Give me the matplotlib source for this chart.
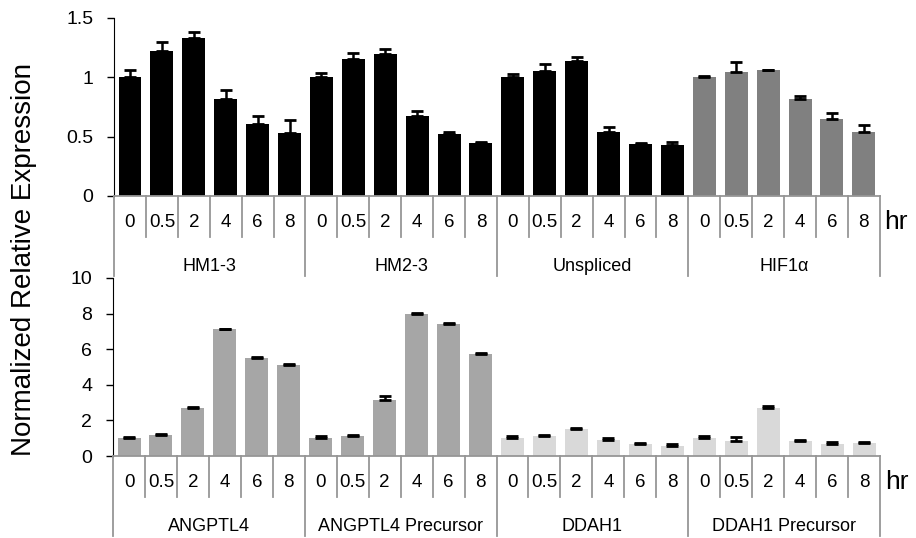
import matplotlib
matplotlib.use("Agg")
from matplotlib import pyplot as plt
from matplotlib import transforms
import numpy as np

plt.rcParams['font.family'] = ['Liberation Sans', 'DejaVu Sans']

times = ["0", "0.5", "2", "4", "6", "8"]

top_groups = ["HM1-3", "HM2-3", "Unspliced", "HIF1α"]
top_colors = ["black", "black", "black", "#808080"]
top_vals = [1.00, 1.22, 1.33, 0.82, 0.61, 0.53,
            1.00, 1.155, 1.20, 0.675, 0.52, 0.447,
            1.00, 1.05, 1.14, 0.54, 0.44, 0.43,
            1.005, 1.045, 1.06, 0.815, 0.65, 0.54]
top_errs = [0.06, 0.08, 0.05, 0.07, 0.06, 0.11,
            0.04, 0.05, 0.035, 0.04, 0.02, 0.01,
            0.03, 0.06, 0.035, 0.04, 0.01, 0.025,
            0.01, 0.08, 0.005, 0.025, 0.05, 0.06]

bottom_groups = ["ANGPTL4", "ANGPTL4 Precursor", "DDAH1", "DDAH1 Precursor"]
bottom_colors = ["#a6a6a6", "#a6a6a6", "#d9d9d9", "#d9d9d9"]
bottom_vals = [1.03, 1.20, 2.68, 7.11, 5.52, 5.14,
               1.03, 1.14, 3.17, 7.97, 7.39, 5.74,
               1.03, 1.14, 1.52, 0.92, 0.69, 0.58,
               1.03, 0.86, 2.72, 0.83, 0.66, 0.71]
bottom_errs = [0.05, 0.03, 0.07, 0.03, 0.04, 0.03,
               0.10, 0.04, 0.19, 0.07, 0.06, 0.04,
               0.12, 0.05, 0.06, 0.07, 0.06, 0.08,
               0.07, 0.18, 0.09, 0.07, 0.12, 0.06]

sep_color = "#969696"


def draw_panel(ax, groups, colors, vals, errs, ymax, yticks, yticklabels):
    n = len(times)
    x = np.arange(len(vals)) + 0.5
    bar_colors = [c for c in colors for _ in range(n)]
    ax.bar(x, vals, width=0.72, color=bar_colors, zorder=2)
    ax.errorbar(x, vals, yerr=[np.zeros(len(errs)), errs], fmt='none',
                ecolor='black', elinewidth=1.8, capsize=4.2, capthick=2, zorder=3)
    ax.set_xlim(0, len(vals))
    ax.set_ylim(0, ymax)
    ax.set_yticks(yticks)
    ax.set_yticklabels(yticklabels, fontsize=14)
    ax.tick_params(axis='y', direction='out', length=5, width=1, pad=10)
    ax.set_xticks([])
    for s in ['top', 'right']:
        ax.spines[s].set_visible(False)
    ax.spines['left'].set_color('black')
    ax.spines['bottom'].set_color(sep_color)
    ax.spines['bottom'].set_linewidth(1.3)

    # multi-level category axis
    tr = transforms.blended_transform_factory(ax.transData, ax.transAxes)
    for i in range(len(vals) + 1):
        depth = -0.45 if i % n == 0 else -0.23
        ax.plot([i, i], [0, depth], color=sep_color, lw=1.3,
                transform=tr, clip_on=False)
    for i, t in enumerate(times * len(groups)):
        ax.text(i + 0.5, -0.15, t, transform=tr, ha='center', va='center',
                fontsize=13.5)
    for g, name in enumerate(groups):
        ax.text(g * n + n / 2, -0.395, name, transform=tr, ha='center',
                va='center', fontsize=13)
    ax.text(len(vals) + 0.15, -0.145, "hr", transform=tr, ha='left',
            va='center', fontsize=19)


fig = plt.figure(figsize=(9.16, 5.38), dpi=100)
ax1 = fig.add_axes([0.1245, 0.6357, 0.836, 0.3309])
ax2 = fig.add_axes([0.1234, 0.1524, 0.8373, 0.3309])

draw_panel(ax1, top_groups, top_colors, top_vals, top_errs, 1.5,
           [0, 0.5, 1, 1.5], ["0", "0.5", "1", "1.5"])
draw_panel(ax2, bottom_groups, bottom_colors, bottom_vals, bottom_errs, 10,
           [0, 2, 4, 6, 8, 10], ["0", "2", "4", "6", "8", "10"])

fig.text(0.026, 0.517, "Normalized Relative Expression", rotation=90,
         ha='center', va='center', fontsize=20)

fig.savefig("out.png", dpi=100)
